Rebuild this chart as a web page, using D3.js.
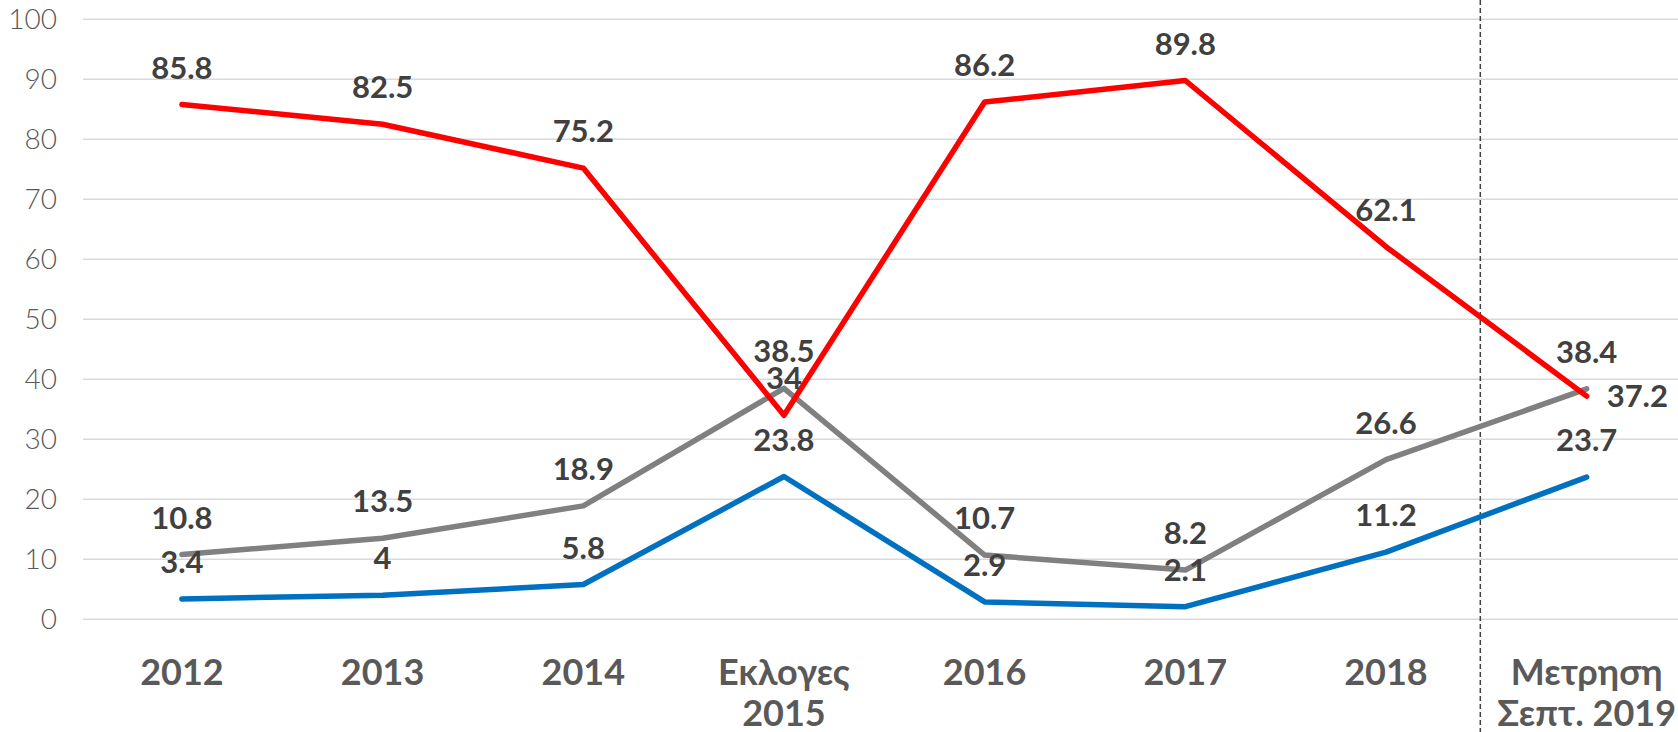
<!DOCTYPE html>
<html><head><meta charset="utf-8">
<script src="https://cdn.jsdelivr.net/npm/d3@7"></script>
<style>
html,body{margin:0;padding:0;background:#fff;}
svg{display:block;}
</style></head>
<body>
<svg id="chart" width="1678" height="732"></svg>
<script>
const categories = [["2012"],["2013"],["2014"],["Εκλογες","2015"],["2016"],["2017"],["2018"],["Μετρηση","Σεπτ. 2019"]];
const redValues  = [85.8, 82.5, 75.2, 34, 86.2, 89.8, 62.1, 37.2];
const grayValues = [10.8, 13.5, 18.9, 38.5, 10.7, 8.2, 26.6, 38.4];
const blueValues = [3.4, 4, 5.8, 23.8, 2.9, 2.1, 11.2, 23.7];
const yTicks = [0,10,20,30,40,50,60,70,80,90,100];

const W = 1678, H = 732;
const svg = d3.select("#chart");
const keys = categories.map(c => c.join(" "));
const x = d3.scaleBand().domain(keys).range([81.6, 1687]);
const cx = k => x(k) + x.bandwidth()/2;
const y = d3.scaleLinear().domain([0,100]).range([619.3, 19.3]);

// gridlines
svg.append("g").selectAll("line").data(yTicks).join("line")
  .attr("x1", 83).attr("x2", W)
  .attr("y1", d => y(d)).attr("y2", d => y(d))
  .attr("stroke", "#d9d9d9").attr("stroke-width", 1.5);

// y tick labels
svg.append("g").selectAll("text").data(yTicks).join("text")
  .attr("x", 57).attr("y", d => y(d)).attr("dy", "0.36em")
  .attr("text-anchor", "end")
  .attr("font-family", "Lato, 'Open Sans', sans-serif").attr("font-weight", 300)
  .attr("font-size", 28).attr("fill", "#595959")
  .text(d => d);

// dashed separator
const sepX = cx(keys[7]) - x.bandwidth()*0.53;
svg.append("line").attr("x1", sepX).attr("x2", sepX).attr("y1", 0).attr("y2", H)
  .attr("stroke", "#404040").attr("stroke-width", 1.5).attr("stroke-dasharray", "5,3");

// category labels
const cat = svg.append("g").selectAll("text").data(categories).join("text")
  .attr("x", (d,i) => cx(keys[i])).attr("y", 685)
  .attr("text-anchor", "middle")
  .attr("font-family", "Lato, 'Open Sans', sans-serif").attr("font-weight", 700)
  .attr("font-size", 36).attr("fill", "#595959");
cat.each(function(d,i){
  const t = d3.select(this);
  d.forEach((line, j) => {
    t.append("tspan").attr("x", cx(keys[i])).attr("dy", j === 0 ? 0 : 41).text(line);
  });
});

// lines
const series = [
  {vals: blueValues, color: "#0070c0"},
  {vals: grayValues, color: "#808080"},
  {vals: redValues, color: "#ff0000"}
];
const line = d3.line().x((d,i) => cx(keys[i])).y(d => y(d));
series.forEach(s => {
  svg.append("path").datum(s.vals).attr("d", line)
    .attr("fill", "none").attr("stroke", s.color).attr("stroke-width", 5.5)
    .attr("stroke-linejoin", "round").attr("stroke-linecap", "round");
});

// data labels
series.forEach((s, si) => {
  svg.append("g").selectAll("text").data(s.vals).join("text")
    .attr("x", (d,i) => (si === 2 && i === 7) ? cx(keys[i]) + 20 : cx(keys[i]))
    .attr("y", (d,i) => (si === 2 && i === 7) ? y(d) + 11 : y(d) - 26)
    .attr("text-anchor", (d,i) => (si === 2 && i === 7) ? "start" : "middle")
    .attr("font-family", "Lato, 'Open Sans', sans-serif").attr("font-weight", 700)
    .attr("font-size", 31).attr("fill", "#404040")
    .text(d => d);
});
</script>
</body></html>
